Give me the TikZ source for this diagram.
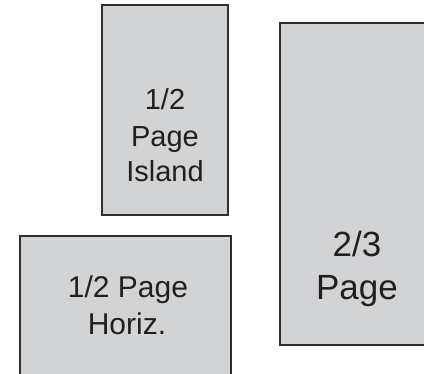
\documentclass[tikz,border=0pt]{standalone}
\usepackage{fontspec}
\setmainfont{Liberation Sans}
\definecolor{boxfill}{HTML}{D2D3D5}
\definecolor{boxline}{HTML}{2E2E2E}
\definecolor{ink}{HTML}{231F20}
\tikzset{
  adbox/.style={draw=boxline, line width=2pt, fill=boxfill, rectangle, inner sep=0pt},
  small/.style={font=\fontsize{29}{34}\selectfont, text=ink, inner sep=0pt, anchor=base},
  big/.style={font=\fontsize{35}{42}\selectfont, text=ink, inner sep=0pt, anchor=base},
}
\begin{document}
\begin{tikzpicture}[x=1pt,y=1pt]
\useasboundingbox (0,0) rectangle (424,374);
\clip (0,0) rectangle (424,374);
% 1/2 Page Island
\node[adbox, minimum width=126pt, minimum height=210pt] (island) at (165,264) {};
\node[small] (i1) at (165,264) {1/2};
\node[small] (i2) at (165,227) {Page};
\node[small] (i3) at (165,192) {Island};
% 1/2 Page Horiz.
\node[adbox, minimum width=211pt, minimum height=160pt] (horiz) at (125.5,58) {};
\node[small, font=\fontsize{30}{36}\selectfont] (h1) at (128,76) {1/2 Page};
\node[small, font=\fontsize{30}{36}\selectfont] (h2) at (127,39) {Horiz.};
% 2/3 Page
\node[adbox, minimum width=152pt, minimum height=322pt] (twothird) at (356,190) {};
\node[big] (p1) at (357,117) {2/3};
\node[big] (p2) at (357,74) {Page};
\end{tikzpicture}
\end{document}
